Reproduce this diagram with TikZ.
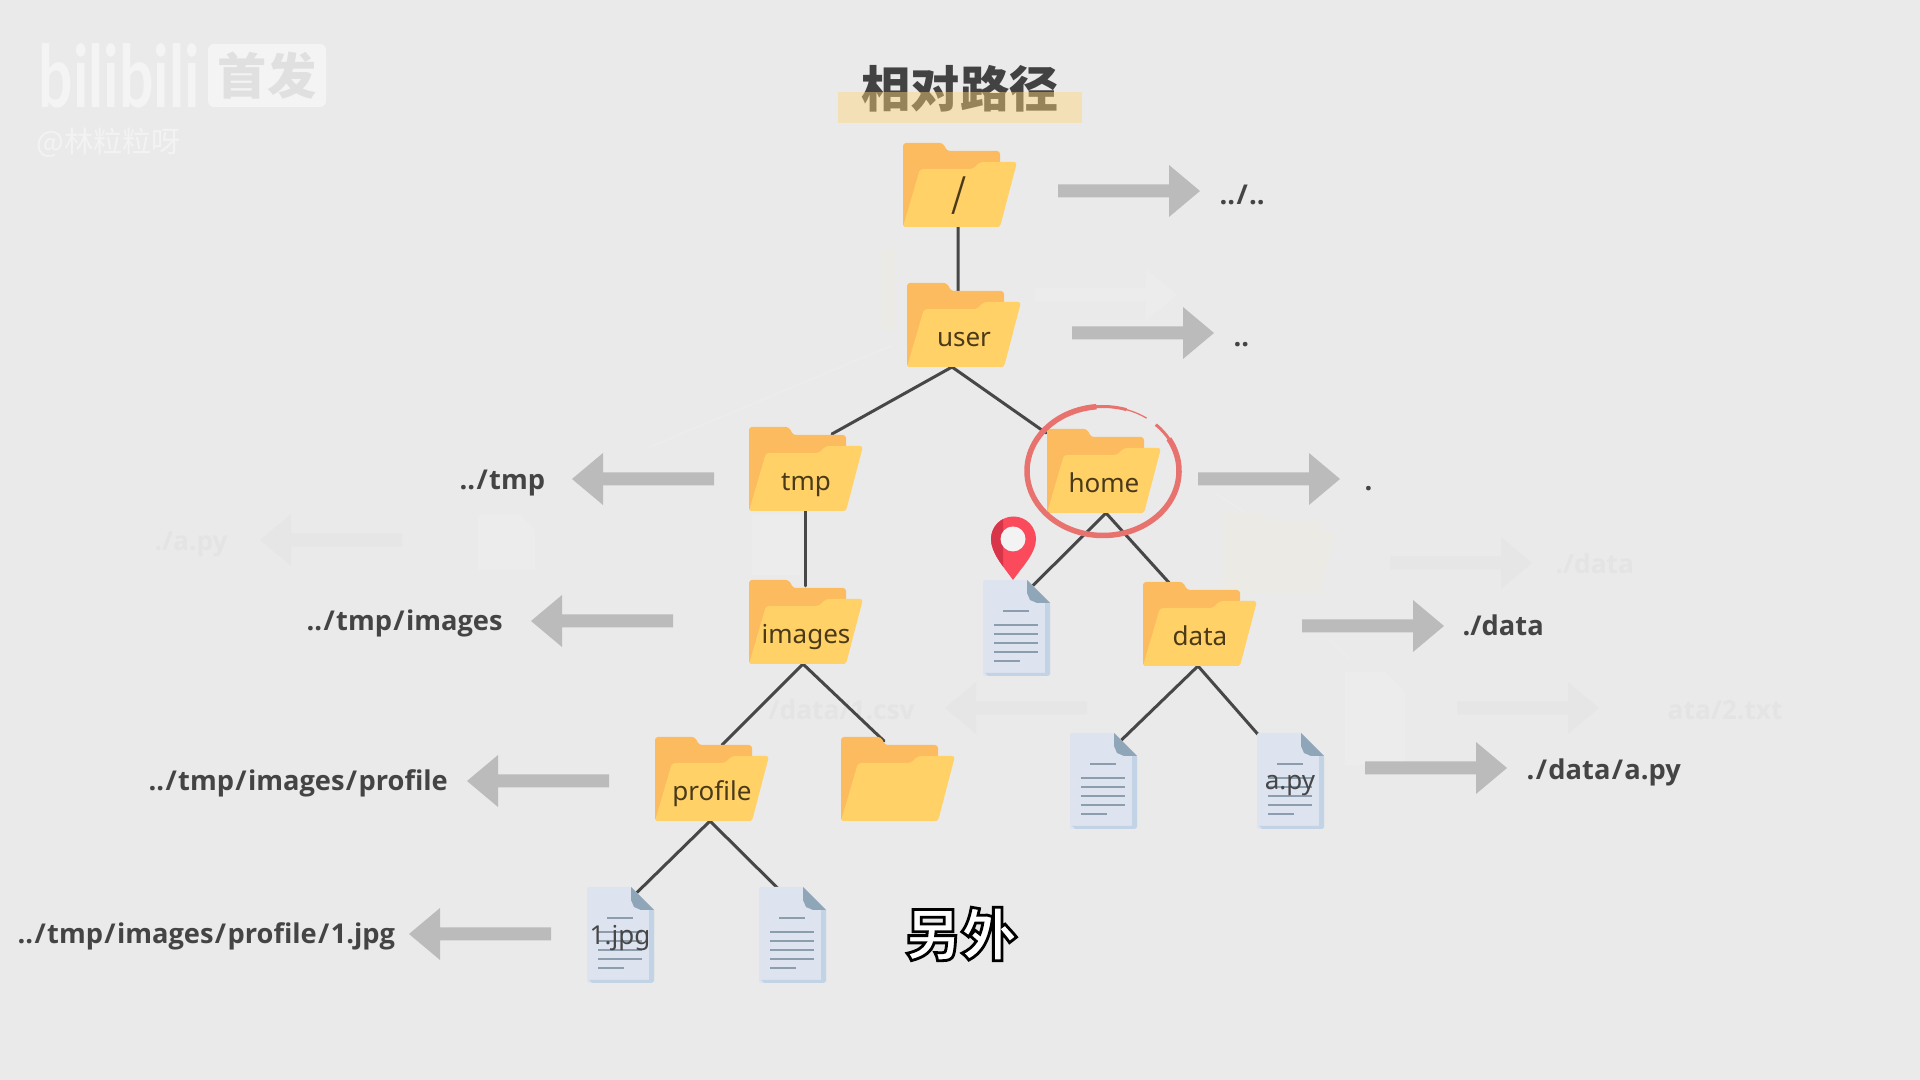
\documentclass[tikz,border=0pt]{standalone}
\usepackage{fontspec}
\setmainfont{Noto Sans CJK SC}
\newfontfamily\logofont{Lato}
\newfontfamily\latinf{Noto Sans}
\newfontfamily\latinb{Open Sans}
\usetikzlibrary{backgrounds,calc}
\pgfdeclarelayer{paper}
\pgfsetlayers{paper,background,main}
\definecolor{paperc}{HTML}{EAEAEA}
\definecolor{fback}{HTML}{FDBB5F}
\definecolor{ffront}{HTML}{FFD166}
\definecolor{foldlabel}{HTML}{4A3A1A}
\definecolor{pathtext}{HTML}{444444}
\definecolor{arrowc}{HTML}{BBBBBB}
\definecolor{docpage}{HTML}{DDE4F0}
\definecolor{docedge}{HTML}{C3D3E6}
\definecolor{docfold}{HTML}{8FA5B8}
\definecolor{docline}{HTML}{8C9DAE}
\definecolor{ringc}{HTML}{E8726E}
\definecolor{pinc}{HTML}{FA4A5C}
\definecolor{pindark}{HTML}{D8354A}
\definecolor{ghostc}{HTML}{E4E4E4}
\definecolor{ghosta}{HTML}{E6E6E6}
\definecolor{ghostf}{HTML}{ECEAE4}
\definecolor{ghostd}{HTML}{ECECEC}
\definecolor{wmark}{HTML}{F4F4F4}
\tikzset{
  x=0.01cm,y=-0.01cm,
  link/.style={draw=black!72,line width=0.03cm,line cap=round},
  foldtext/.style={font=\latinf\fontsize{7.4pt}{9pt}\selectfont,text=foldlabel,anchor=base,inner sep=0pt},
  pathlabel/.style={font=\latinb\bfseries\fontsize{7.75pt}{9pt}\selectfont,text=pathtext,anchor=base west,inner sep=0pt},
  doctext/.style={font=\latinf\fontsize{7.4pt}{9pt}\selectfont,text=black!72,anchor=base,inner sep=0pt},
  ghosttext/.style={font=\latinb\bfseries\fontsize{7.5pt}{9pt}\selectfont,text=ghostc,anchor=base west,inner sep=0pt},
  slot/.style={inner sep=0pt,outer sep=0pt},
}
\newcommand{\sep}{\kern0.05em/\kern0.05em}
\newcommand{\myfolder}[4]{%
  \begin{scope}[shift={(#2,#3)}]
    \fill[fback,rounded corners=0.03cm] (0,0) -- (40,0) -- (44,8) -- (97,8) -- (97,84) -- (0,84) -- cycle;
    \fill[ffront,rounded corners=0.03cm] (17,26) -- (70,26) -- (77,19) -- (114,19) -- (97,84) -- (0,84) -- cycle;
    \node[slot,minimum width=1.14cm,minimum height=0.84cm] (#1) at (57,42) {};
    \node[foldtext] (#1-label) at (57,63.5) {#4};
  \end{scope}}
\newcommand{\mydoc}[3]{%
  \begin{scope}[shift={(#2,#3)}]
    \fill[docpage,rounded corners=0.02cm] (0,0) -- (44,0) -- (67,23) -- (67,96) -- (0,96) -- cycle;
    \fill[docedge] (62,23) -- (67,23) -- (67,94) -- (65,96) -- (5,96) -- (2,93) -- (62,93) -- cycle;
    \fill[docfold] (44,0) -- (67,23) -- (54,23) -- (47,20) -- (44,13) -- cycle;
    \draw[docline,line width=0.028cm] (20,31) -- (46,31);
    \draw[docline,line width=0.028cm] (11,45) -- (55,45);
    \draw[docline,line width=0.028cm] (11,54) -- (55,54);
    \draw[docline,line width=0.028cm] (11,63) -- (55,63);
    \draw[docline,line width=0.028cm] (11,72) -- (55,72);
    \draw[docline,line width=0.028cm] (11,81) -- (37,81);
    \node[slot,minimum width=0.67cm,minimum height=0.96cm] (#1) at (33.5,48) {};
  \end{scope}}
\newcommand{\rarrow}[3][arrowc]{\fill[#1] (#2,#3-6.5) -- (#2+111,#3-6.5) -- (#2+111,#3-26) -- (#2+142,#3) -- (#2+111,#3+26) -- (#2+111,#3+6.5) -- (#2,#3+6.5) -- cycle;}
\newcommand{\larrow}[3][arrowc]{\fill[#1] (#2,#3-6.5) -- (#2-111,#3-6.5) -- (#2-111,#3-26) -- (#2-142,#3) -- (#2-111,#3+26) -- (#2-111,#3+6.5) -- (#2,#3+6.5) -- cycle;}
\begin{document}
\begin{tikzpicture}
\useasboundingbox (0,0) rectangle (1920,1080);
\begin{pgfonlayer}{paper}
  \fill[paperc] (0,0) rectangle (1920,1080);
  % faint afterimages
  \rarrow[ghostd]{1035}{295}
  \larrow[ghosta]{402}{540}
  \rarrow[ghosta]{1390}{563}
  \rarrow[ghosta]{1457}{708}
  \larrow[ghosta]{1087}{708}
  \node[ghosttext] (g1) at (154,551) {./a.py};
  \node[ghosttext] (g2) at (1555,574) {./data};
  \node[ghosttext] (g3) at (1667,720) {ata/2.txt};
  \node[ghosttext] (g4) at (768,720) {/data/1.csv};
  % faint folder
  \fill[ghostf] (1224,513) -- (1262,513) -- (1266,521) -- (1320,521) -- (1320,532) -- (1334,532) -- (1320,593) -- (1224,593) -- cycle;
  \fill[ghostf] (881,250) rectangle (895,330);
  % faint documents
  \fill[ghostd] (1345,672) -- (1385,672) -- (1405,692) -- (1405,765) -- (1345,765) -- cycle;
  \fill[ghostd] (478,515) -- (520,515) -- (535,530) -- (535,570) -- (478,570) -- cycle;
  \fill[ghostd] (752,515) rectangle (800,575);
  % faint lines
  \draw[ghostd,line width=0.02cm] (650,447) -- (893,345);
  \draw[ghostd,line width=0.02cm] (1216,494) -- (1245,512);
  \draw[ghostd,line width=0.02cm] (1330,640) -- (1350,660);
  % watermark
  \node[font=\logofont\fontsize{24pt}{24pt}\selectfont\bfseries,text=wmark,anchor=center,inner sep=0pt] (wm1) at (119,76) {\scalebox{0.72}[1.02]{bilibili}};
  \fill[wmark,rounded corners=0.06cm] (208,44) rectangle (326,107);
  \node[font=\fontsize{14pt}{15pt}\selectfont\bfseries,text=black!12,anchor=center,inner sep=0pt] (wm2) at (267,76) {首发};
  \node[font=\fontsize{8.3pt}{9pt}\selectfont,text=white!40!paperc,anchor=base west,inner sep=0pt] (wm3) at (36,153) {@林粒粒呀};
\end{pgfonlayer}
% title
\node[font=\fontsize{14pt}{15pt}\selectfont\bfseries,text=black!74,inner sep=0pt] (title) at (960,89) {相对路径};
\fill[fill={rgb,255:red,255;green,212;blue,120},opacity=0.45] (838,92) rectangle (1082,123);
% folders
\myfolder{root}{903}{143}{}
\node[foldtext,font=\fontsize{11pt}{12pt}\selectfont] (root-slash) at (959,208) {/};
\myfolder{user}{907}{283}{user}
\myfolder{tmp}{749}{427}{tmp}
\myfolder{home}{1047}{429}{home}
\myfolder{images}{749}{580}{images}
\myfolder{data}{1143}{582}{data}
\myfolder{profile}{655}{737}{profile}
\myfolder{blank}{841}{737}{}
% documents
\mydoc{locdoc}{983}{580}
\mydoc{datadoc}{1070}{733}
\mydoc{apy}{1257}{733}
\mydoc{jpg}{587}{887}
\mydoc{otherdoc}{759}{887}
\node[doctext] (apy-label) at (1290,790) {a.py};
\node[doctext] (jpg-label) at (620,945) {1.jpg};
% connectors
\begin{pgfonlayer}{background}
  \draw[link] ([xshift=-0.02cm]root.south) -- ([shift={(-6,9)}]user.north);
  \draw[link] ([xshift=-0.12cm]user.south) -- ([shift={(26,7)}]tmp.north);
  \draw[link] ([xshift=-0.12cm]user.south) -- ([shift={(-58,4)}]home.north);
  \draw[link] ([xshift=-0.01cm]tmp.south) -- ([shift={(-1,6)}]images.north);
  \draw[link] ([xshift=0.02cm]home.south) -- ([shift={(16,6)}]locdoc.north);
  \draw[link] ([xshift=0.02cm]home.south) -- ([shift={(-28,4)}]data.north);
  \draw[link] ([xshift=-0.03cm]images.south) -- ([shift={(10,8)}]profile.north);
  \draw[link] ([xshift=-0.03cm]images.south) -- ([shift={(-14,4)}]blank.north);
  \draw[link] ([xshift=-0.02cm]data.south) -- ([shift={(17,8)}]datadoc.north);
  \draw[link] ([xshift=-0.02cm]data.south) -- ([shift={(-32,2)}]apy.north);
  \draw[link] ([xshift=-0.02cm]profile.south) -- ([shift={(16,6)}]jpg.north);
  \draw[link] ([xshift=-0.02cm]profile.south) -- ([shift={(-14,2)}]otherdoc.north);
\end{pgfonlayer}
% arrows
\rarrow{1058}{191}
\rarrow{1072}{333}
\rarrow{1198}{479}
\rarrow{1302}{626}
\rarrow{1365}{768}
\larrow{714}{479}
\larrow{673}{621}
\larrow{609}{781}
\larrow{551}{934}
% path labels
\node[pathlabel] (p1) at (1219,205) {..\sep..};
\node[pathlabel] (p2) at (1233,347) {..};
\node[pathlabel] (p3) at (1364,491) {.};
\node[pathlabel] (p4) at (1462,636) {./data};
\node[pathlabel] (p5) at (1526,780) {.\sep data\sep a.py};
\node[pathlabel] (p6) at (459,490) {..\sep tmp};
\node[pathlabel] (p7) at (306,631) {..\sep tmp\sep images};
\node[pathlabel] (p8) at (148,791) {..\sep tmp\sep images\sep profile};
\node[pathlabel] (p9) at (17,944) {..\sep tmp\sep images\sep profile\sep 1.jpg};
% ring
\begin{scope}[shift={(1103,471)}]
  \draw[ringc,line width=0.055cm] (0,0) ++(-30:76 and 64.5) arc[start angle=-30,end angle=265,x radius=76,y radius=64.5];
  \draw[ringc,line width=0.03cm] (0,0) ++(-46:76 and 64.5) arc[start angle=-46,end angle=-28,x radius=76,y radius=64.5];
  \draw[ringc,line width=0.03cm] (0,0) ++(263:76 and 64.5) arc[start angle=263,end angle=288,x radius=76,y radius=64.5];
  \draw[ringc,line width=0.013cm] (0,0) ++(286:76 and 64.5) arc[start angle=286,end angle=305,x radius=76,y radius=64.5];
\end{scope}
% pin
\fill[pinc] (1013,580) .. controls (1003,566) and (991,553) .. (991,539) arc[start angle=180,end angle=360,radius=22.5] .. controls (1036,553) and (1023,566) .. (1013,580) -- cycle;
\begin{scope}
  \clip (985,510) rectangle (1003,585);
  \fill[pindark] (1013,580) .. controls (1003,566) and (991,553) .. (991,539) arc[start angle=180,end angle=360,radius=22.5] .. controls (1036,553) and (1023,566) .. (1013,580) -- cycle;
\end{scope}
\fill[paperc!60!white] (1013,539) circle[radius=12.5];
% subtitle
\node[font=\fontsize{16pt}{17pt}\selectfont\bfseries,inner sep=0pt,text=white] (caption) at (961,934) {\special{pdf:code 2 Tr 0.8 w 0 0 0 RG 1 1 1 rg}另外\special{pdf:code 0 Tr}};
\end{tikzpicture}
\end{document}
